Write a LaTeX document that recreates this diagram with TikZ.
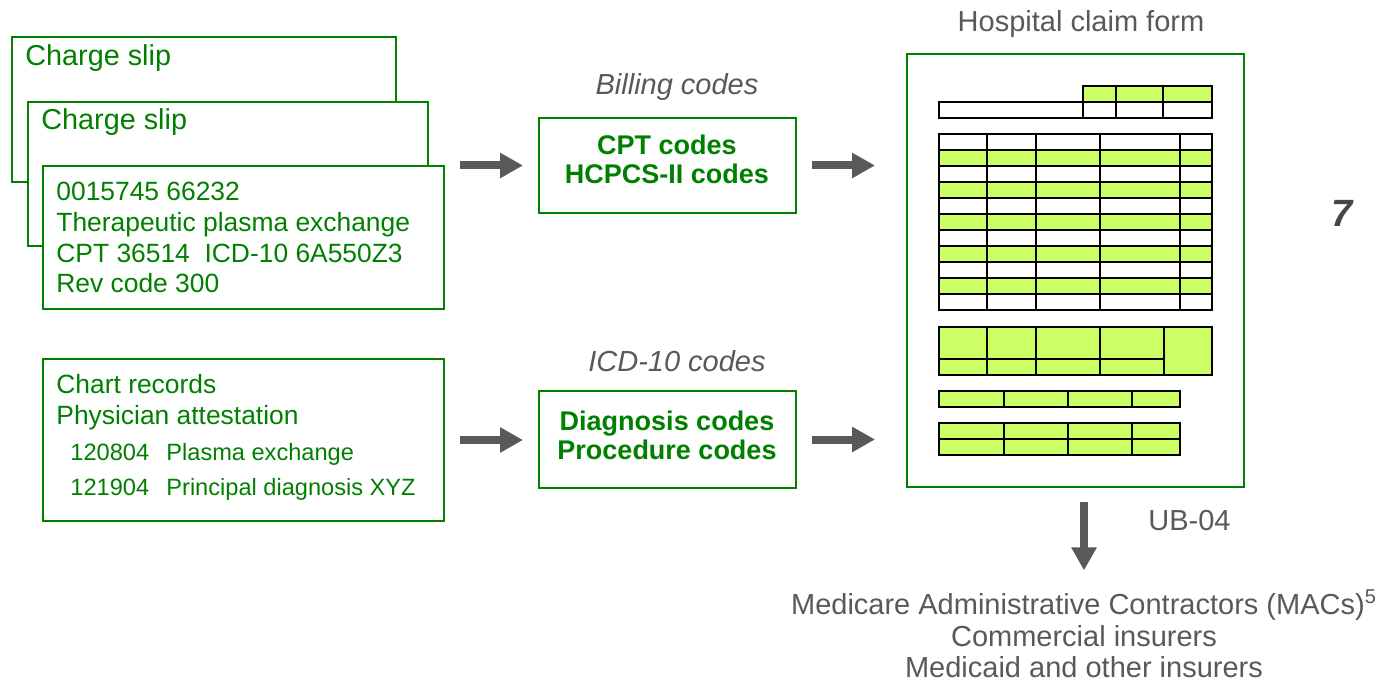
\documentclass[tikz,border=0pt]{standalone}
\usepackage{fontspec}
\setmainfont{Liberation Sans}
\usetikzlibrary{arrows.meta,fit}
\definecolor{codegreen}{RGB}{0,128,0}
\definecolor{textgray}{RGB}{89,89,89}
\definecolor{formgreen}{RGB}{204,255,102}

\begin{document}
\begin{tikzpicture}[x=0.5pt,y=-0.5pt,
  slipbox/.style={draw=codegreen,line width=1pt,fill=white,inner sep=0pt,outer sep=0pt},
  formbox/.style={draw=codegreen,line width=1.3pt,inner sep=0pt,outer sep=0pt},
  headfont/.style={text=codegreen,inner sep=0pt,font=\fontsize{14.4}{17}\selectfont},
  slipfont/.style={text=codegreen,inner sep=0pt,font=\fontsize{13.2}{15.5}\selectfont},
  subfont/.style={text=codegreen,inner sep=0pt,font=\fontsize{11.8}{14}\selectfont},
  codefont/.style={text=codegreen,inner sep=0pt,font=\bfseries\fontsize{13.5}{14.5}\selectfont},
  graylabel/.style={text=textgray,inner sep=0pt,font=\fontsize{14.5}{16}\selectfont},
  formline/.style={draw=black,line width=0.8pt},
  bigarrow/.style={draw=textgray,line width=4pt,-{Triangle[length=11.5pt,width=12pt]}}
]
\useasboundingbox (0,0) rectangle (1395,684);

\node [slipbox,fit={(12,37) (396,182)}] (slipA) {};
\node [headfont,anchor=base west] (slipAtitle) at (25,66) {Charge slip};
\node [slipbox,fit={(28,102) (428,246)}] (slipB) {};
\node [headfont,anchor=base west] (slipBtitle) at (41,130) {Charge slip};
\node [slipbox,fit={(43,166) (444,309)}] (slipC) {};
\node [slipfont,anchor=base west] (slipClineA) at (56,200) {0015745 66232};
\node [slipfont,anchor=base west] (slipClineB) at (56,231) {Therapeutic plasma exchange};
\node [slipfont,anchor=base west] (slipClineC) at (56,262) {CPT 36514\ \ ICD-10 6A550Z3};
\node [slipfont,anchor=base west] (slipClineD) at (56,292) {Rev code 300};

\node [slipbox,fit={(43,359) (444,521)}] (chart) {};
\node [slipfont,anchor=base west] (chartlineA) at (56,393) {Chart records};
\node [slipfont,anchor=base west] (chartlineB) at (56,424) {Physician attestation};
\node [subfont,anchor=base west] (chartdateA) at (70,460) {120804};
\node [subfont,anchor=base west] (charttextA) at (166,460) {Plasma exchange};
\node [subfont,anchor=base west] (chartdateB) at (70,495) {121904};
\node [subfont,anchor=base west] (charttextB) at (166,495) {Principal diagnosis XYZ};

\node [graylabel,anchor=base] (billinglabel) at (677,95) {\itshape Billing codes};
\node [slipbox,fit={(539,118) (796,213)}] (cpt) {};
\node [codefont,anchor=base] (cptlineA) at (667,155) {CPT codes};
\node [codefont,anchor=base] (cptlineB) at (667,184) {HCPCS-II codes};

\node [graylabel,anchor=base] (icdlabel) at (677,371) {\itshape ICD-10 codes};
\node [slipbox,fit={(539,391) (796,488)}] (diag) {};
\node [codefont,anchor=base] (diaglineA) at (667,430) {Diagnosis codes};
\node [codefont,anchor=base] (diaglineB) at (667,459) {Procedure codes};

\node [graylabel,anchor=base] (formlabel) at (1081,32) {Hospital claim form};
\node [formbox,fit={(907,54) (1244,487)}] (form) {};

\fill [formgreen] (1083,86) rectangle (1212,102);
\draw [formline] (1083,86) rectangle (1212,102) (939,102) rectangle (1212,118);
\draw [formline] (1083,102) -- (1083,118) (1116,86) -- (1116,118) (1163,86) -- (1163,118);

\fill [formgreen] (939,150) rectangle (1212,166) (939,182) rectangle (1212,198)
  (939,214) rectangle (1212,230) (939,246) rectangle (1212,262) (939,278) rectangle (1212,294);
\draw [formline] (939,134) rectangle (1212,310);
\draw [formline] (939,150) -- (1212,150) (939,166) -- (1212,166) (939,182) -- (1212,182)
  (939,198) -- (1212,198) (939,214) -- (1212,214) (939,230) -- (1212,230)
  (939,246) -- (1212,246) (939,262) -- (1212,262) (939,278) -- (1212,278)
  (939,294) -- (1212,294);
\draw [formline] (987,134) -- (987,310) (1036,134) -- (1036,310)
  (1100,134) -- (1100,310) (1180,134) -- (1180,310);

\filldraw [formline,fill=formgreen] (939,327) rectangle (1212,375);
\draw [formline] (939,359) -- (1164,359) (987,327) -- (987,375) (1036,327) -- (1036,375)
  (1100,327) -- (1100,375) (1164,327) -- (1164,375);

\filldraw [formline,fill=formgreen] (939,391) rectangle (1180,407);
\draw [formline] (1004,391) -- (1004,407) (1068,391) -- (1068,407) (1132,391) -- (1132,407);

\filldraw [formline,fill=formgreen] (939,423) rectangle (1180,455);
\draw [formline] (939,439) -- (1180,439) (1004,423) -- (1004,455) (1068,423) -- (1068,455)
  (1132,423) -- (1132,455);

\node [graylabel,anchor=base west] (ublabel) at (1148,530) {UB-04};
\node [graylabel,anchor=base] (payerA) at (1084,614) {Medicare Administrative Contractors (MACs)\textsuperscript{\fontsize{10}{12}\selectfont 5}};
\node [graylabel,anchor=base] (payerB) at (1084,646) {Commercial insurers};
\node [graylabel,anchor=base] (payerC) at (1084,677) {Medicaid and other insurers};

\node [text=textgray!80!black,inner sep=0pt,font=\bfseries\itshape\fontsize{19}{22}\selectfont] (pagenum) at (1342,213) {7};

\draw [bigarrow,shorten <=8pt,shorten >=8pt] (slipC.east |- cpt.west) -- (cpt.west);
\draw [bigarrow,shorten <=8pt,shorten >=16pt] (cpt.east) -- (cpt.east -| form.west);
\draw [bigarrow,shorten <=8pt,shorten >=8pt] (chart.east) -- (chart.east -| diag.west);
\draw [bigarrow,shorten <=8pt,shorten >=16pt] (diag.east) -- (diag.east -| form.west);
\draw [bigarrow,shorten <=7.5pt,shorten >=9.5pt] (form.south -| payerA.north) -- (payerA.north);
\end{tikzpicture}
\end{document}
